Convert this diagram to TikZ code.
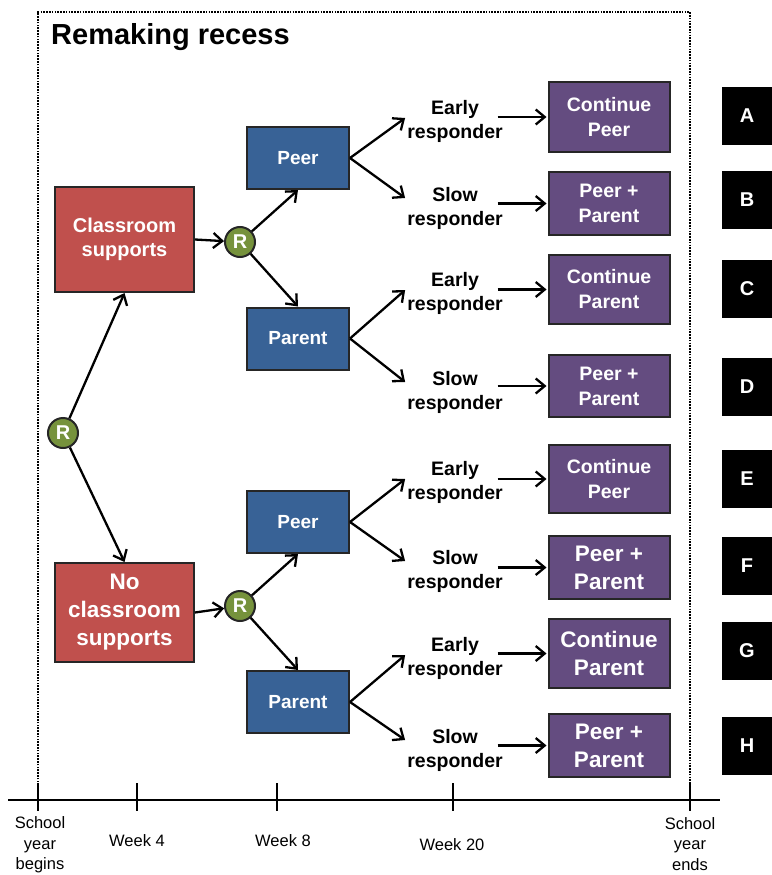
\documentclass[tikz,border=0pt]{standalone}
\usepackage{fontspec}
\setmainfont{Liberation Sans}
\usetikzlibrary{arrows.meta}
\definecolor{suppred}{RGB}{192,80,77}
\definecolor{armblue}{RGB}{56,98,150}
\definecolor{endpurple}{RGB}{100,76,128}
\definecolor{randgreen}{RGB}{118,146,60}
\begin{document}
\begin{tikzpicture}[x=1pt,y=-1pt,
  box/.style={draw=black!85,line width=2pt,text=white,align=center,inner sep=2pt},
  redbox/.style={box,fill=suppred,minimum width=139pt},
  bluebox/.style={box,fill=armblue,minimum width=102pt,minimum height=62pt,
    font=\bfseries\fontsize{19}{23}\selectfont},
  purplebox/.style={box,fill=endpurple,minimum width=121pt},
  smallend/.style={purplebox,font=\bfseries\fontsize{19.5}{25}\selectfont},
  bigend/.style={purplebox,font=\bfseries\fontsize{22.5}{28}\selectfont},
  lettbox/.style={fill=black,text=white,minimum width=50pt,minimum height=58pt,
    inner sep=0pt,font=\bfseries\fontsize{20}{24}\selectfont},
  randnode/.style={circle,draw=black!85,line width=2pt,fill=randgreen,text=white,
    minimum size=30pt,inner sep=0pt,font=\bfseries\fontsize{20}{24}\selectfont},
  resp/.style={align=center,inner sep=0pt,font=\bfseries\fontsize{19.5}{24}\selectfont},
  flow/.style={line width=2.3pt,-{Straight Barb[length=9pt,width=15pt]}},
  frame/.style={line width=2.2pt,dash pattern=on 1.6pt off 1.2pt},
  axis/.style={line width=2.4pt},
  tick/.style={line width=2.2pt},
  axlab/.style={align=center,inner sep=0pt,font=\fontsize{16.5}{20.5}\selectfont}]
\useasboundingbox (0,0) rectangle (771,875);

% dotted frame round the study
\draw[frame] (38,785) -- (38,12) -- (690,12) -- (690,785);
\node[anchor=west,inner sep=0pt,font=\bfseries\fontsize{29}{34}\selectfont] (title) at (51,37) {Remaking recess};

% first randomisation and classroom arms
\node[randnode] (r0) at (63,433) {R};
\node[redbox,minimum height=105pt,font=\bfseries\fontsize{20}{24}\selectfont] (cs) at (124.5,239.5) {Classroom\\supports};
\node[redbox,minimum height=99pt,font=\bfseries\fontsize{22.5}{28}\selectfont] (ncs) at (124.5,612.5) {No\\classroom\\supports};

% second randomisation
\node[randnode] (r1) at (240,242) {R};
\node[randnode] (r2) at (240,606) {R};

% intervention arms
\node[bluebox] (peerA) at (298,158) {Peer};
\node[bluebox] (parentA) at (298,338.5) {Parent};
\node[bluebox] (peerB) at (298,522) {Peer};
\node[bluebox] (parentB) at (298,702) {Parent};

% responder status
\node[resp] (e1) at (455,121) {Early\\responder};
\node[resp] (s1) at (455,208) {Slow\\responder};
\node[resp] (e2) at (455,293) {Early\\responder};
\node[resp] (s2) at (455,392) {Slow\\responder};
\node[resp] (e3) at (455,482) {Early\\responder};
\node[resp] (s3) at (455,571) {Slow\\responder};
\node[resp] (e4) at (455,658) {Early\\responder};
\node[resp] (s4) at (455,750) {Slow\\responder};

% end-of-year conditions
\node[smallend,minimum height=70pt] (pA) at (609,117) {Continue\\Peer};
\node[smallend,minimum height=63pt] (pB) at (609,203.5) {Peer +\\Parent};
\node[smallend,minimum height=69pt] (pC) at (609,289.5) {Continue\\Parent};
\node[smallend,minimum height=62pt] (pD) at (609,386) {Peer +\\Parent};
\node[smallend,minimum height=68pt] (pE) at (609,479) {Continue\\Peer};
\node[bigend,minimum height=63pt] (pF) at (609,567.5) {Peer +\\Parent};
\node[bigend,minimum height=69pt] (pG) at (609,653.5) {Continue\\Parent};
\node[bigend,minimum height=63pt] (pH) at (609,745.5) {Peer +\\Parent};

% sequence labels
\node[lettbox] (lA) at (747,116) {A};
\node[lettbox] (lB) at (747,200) {B};
\node[lettbox] (lC) at (747,289) {C};
\node[lettbox] (lD) at (747,387) {D};
\node[lettbox] (lE) at (747,479) {E};
\node[lettbox] (lF) at (747,566) {F};
\node[lettbox] (lG) at (747,651) {G};
\node[lettbox] (lH) at (747,746) {H};

% flow
\draw[flow] (r0) -- (cs.south);
\draw[flow] (r0) -- (ncs.north);
\draw[flow] (cs.east) -- (r1);
\draw[flow] (ncs.east) -- (r2);
\draw[flow] (r1) -- (peerA.south);
\draw[flow] (r1) -- (parentA.north);
\draw[flow] (r2) -- (peerB.south);
\draw[flow] (r2) -- (parentB.north);

\foreach \arm/\e/\s in {peerA/e1/s1,parentA/e2/s2,peerB/e3/s3,parentB/e4/s4}{
  \draw[flow] (\arm.east) -- ([xshift=-2pt,yshift=3pt]\e.west);
  \draw[flow] (\arm.east) -- ([xshift=-2pt,yshift=10pt]\s.west);
}
\foreach \r/\p in {e1/pA,s1/pB,e2/pC,s2/pD,e3/pE,s3/pF,e4/pG,s4/pH}{
  \draw[flow] ([xshift=-50pt]\p.west) -- ([xshift=-1pt]\p.west);
}

% timeline
\coordinate (axL) at (8,800);
\coordinate (axR) at (720,800);
\draw[axis] (axL) -- (axR);
\foreach \x/\nm in {38/t0,137/t4,277/t8,453/t20,690/tend}{
  \coordinate (\nm) at (\x,800);
  \draw[tick] (\x,783) -- (\x,811);
}
\node[axlab] (lab0) at (40,845) {School\\year\\begins};
\node[axlab] (lab4) at (137,841) {Week 4};
\node[axlab] (lab8) at (283,841) {Week 8};
\node[axlab] (lab20) at (452,845) {Week 20};
\node[axlab] (labend) at (690,844) {School\\year\\ends};
\end{tikzpicture}
\end{document}
